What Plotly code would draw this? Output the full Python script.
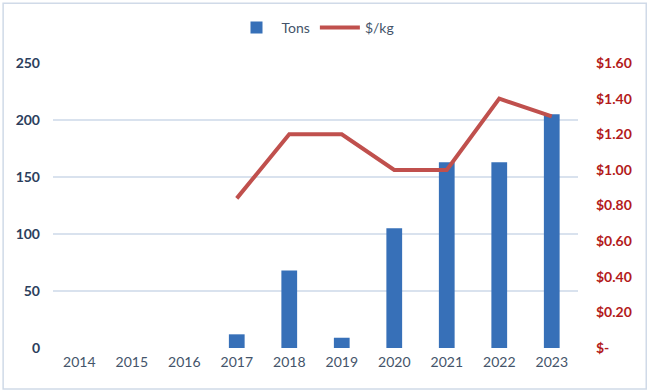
import plotly.graph_objects as go

years = ["2014", "2015", "2016", "2017", "2018", "2019", "2020", "2021", "2022", "2023"]
tons = [None, None, None, 12, 68, 9, 105, 163, 163, 205]
price = [None, None, None, 0.84, 1.20, 1.20, 1.00, 1.00, 1.40, 1.30]

left_ticks = [0, 50, 100, 150, 200, 250]
right_ticks = [0, 0.2, 0.4, 0.6, 0.8, 1.0, 1.2, 1.4, 1.6]
right_labels = ["$-", "$0.20", "$0.40", "$0.60", "$0.80", "$1.00", "$1.20", "$1.40", "$1.60"]

font_family = "Lato, 'Open Sans', sans-serif"

fig = go.Figure()
fig.add_trace(go.Bar(
    x=years, y=tons, name="Tons",
    marker=dict(color="#3770b8", line=dict(width=0)),
    width=0.3,
))
fig.add_trace(go.Scatter(
    x=years, y=price, name="$/kg", yaxis="y2", mode="lines",
    line=dict(color="#c0504d", width=4),
    connectgaps=False,
))

fig.update_layout(
    width=650, height=392,
    margin=dict(l=53, r=72, t=63, b=44, autoexpand=False),
    paper_bgcolor="white", plot_bgcolor="white",
    font=dict(family=font_family, size=14, color="#44546a"),
    showlegend=True,
    legend=dict(orientation="h", x=0.5, xanchor="center", y=1.123, yanchor="middle",
                font=dict(size=14, color="#44546a"), itemwidth=40),
    xaxis=dict(showgrid=False, showline=False, ticks="", automargin=False,
               tickfont=dict(size=14, color="#44546a"), ticklabelstandoff=4),
    yaxis=dict(range=[0, 250], tickvals=left_ticks, showgrid=True, gridcolor="#d9e2ee",
               gridwidth=1.5, zeroline=False, showline=False, automargin=False,
               tickfont=dict(size=14, color="#2c3e5c", weight="bold"),
               ticklabelstandoff=12),
    yaxis2=dict(range=[0, 1.6], overlaying="y", side="right", tickvals=right_ticks,
                ticktext=right_labels, showgrid=False, zeroline=False, showline=False,
                automargin=False,
                tickfont=dict(size=14, color="#b31b1b", weight="bold"),
                ticklabelstandoff=17),
)

fig.add_shape(type="rect", xref="paper", yref="paper", x0=-0.095, x1=1.13, y0=-0.144, y1=1.21,
              line=dict(color="#d0dae8", width=1.5), layer="below")

fig.write_html("out.html", post_script="document.body.style.margin='0';",
               config={"displayModeBar": False})
